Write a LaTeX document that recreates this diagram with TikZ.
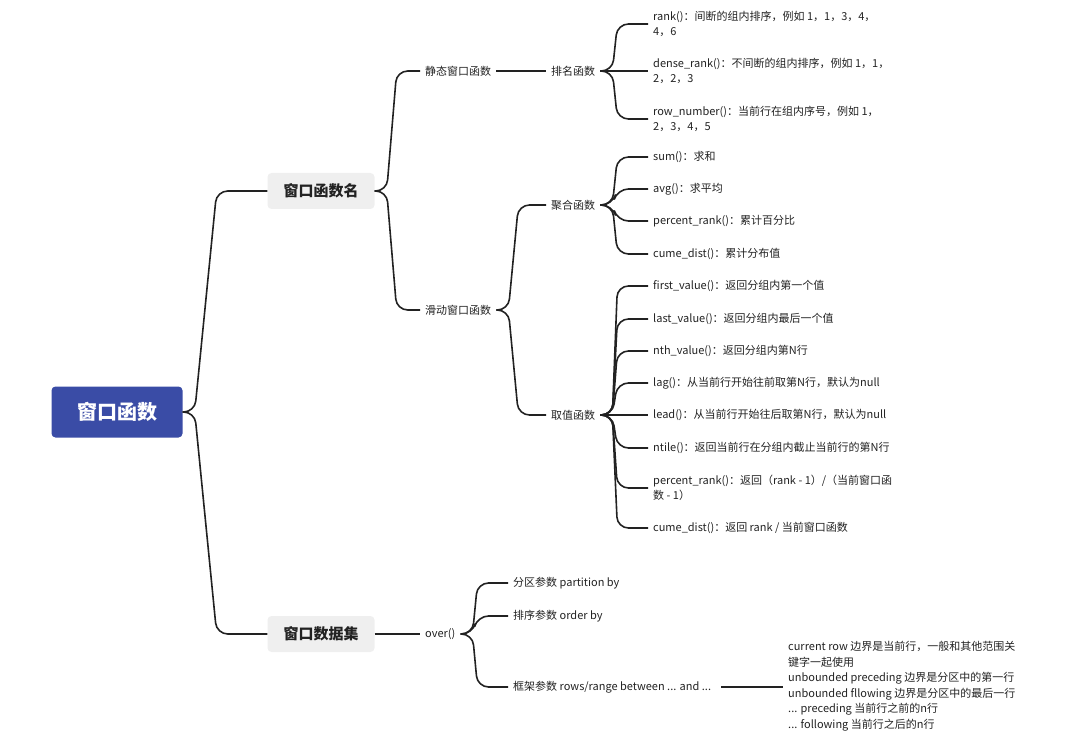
\documentclass[tikz,border=0pt]{standalone}
\usepackage{fontspec}
\setmainfont{Noto Sans CJK SC}
\usetikzlibrary{calc}
\definecolor{rootc}{HTML}{3A4CA6}
\definecolor{grayc}{HTML}{EFEFEF}
\definecolor{linec}{HTML}{222222}
\begin{document}
\begin{tikzpicture}[x=1pt,y=-1pt,
  ln/.style={draw=linec,line width=1.6pt,rounded corners=11pt},
  lf/.style={anchor=west,inner xsep=5pt,inner ysep=0pt,align=left,font=\fontsize{11}{15.5}\selectfont,text=linec},
  mid/.style={inner xsep=5pt,inner ysep=0pt,font=\fontsize{11}{14}\selectfont,text=linec},
  main/.style={fill=grayc,rounded corners=4pt,minimum width=107pt,minimum height=36pt,font=\fontsize{15}{18}\selectfont\bfseries,text=linec}]
\useasboundingbox (0,0) rectangle (1080,741);
\newcommand\br[3]{\draw[ln] let \p1=(#1.east),\p2=(#2.west) in (\p1) -- ($(\p1)+(12pt,0)$) -- (\x1+12pt+#3pt,\y2) -- (\p2);}
\node[fill=rootc,rounded corners=4pt,minimum width=131pt,minimum height=51pt,font=\fontsize{20}{22}\selectfont\bfseries,text=white] (root) at (117,412) {窗口函数};
\node[main] (fn) at (321,191) {窗口函数名};
\node[main] (ds) at (321,634) {窗口数据集};
\node[mid,anchor=west] (st) at (420,71) {静态窗口函数};
\node[mid,anchor=west] (sl) at (420,310) {滑动窗口函数};
\node[mid,anchor=west] (pm) at (546,71) {排名函数};
\node[mid,anchor=west] (jh) at (546,205) {聚合函数};
\node[mid,anchor=west] (qz) at (546,415) {取值函数};
\node[lf] (r1) at (648,24) {rank()：间断的组内排序，例如 1，1，3，4，\\4，6};
\node[lf] (r2) at (648,71) {dense\_rank()：不间断的组内排序，例如 1，1，\\2，2，3};
\node[lf] (r3) at (648,119) {row\_number()：当前行在组内序号，例如 1，\\2，3，4，5};
\node[lf] (a1) at (648,157) {sum()：求和};
\node[lf] (a2) at (648,189) {avg()：求平均};
\node[lf] (a3) at (648,221) {percent\_rank()：累计百分比};
\node[lf] (a4) at (648,254) {cume\_dist()：累计分布值};
\node[lf] (v1) at (648,286) {first\_value()：返回分组内第一个值};
\node[lf] (v2) at (648,319) {last\_value()：返回分组内最后一个值};
\node[lf] (v3) at (648,351) {nth\_value()：返回分组内第N行};
\node[lf] (v4) at (648,383) {lag()：从当前行开始往前取第N行，默认为null};
\node[lf] (v5) at (648,415) {lead()：从当前行开始往后取第N行，默认为null};
\node[lf] (v6) at (648,448) {ntile()：返回当前行在分组内截止当前行的第N行};
\node[lf] (v7) at (648,488) {percent\_rank()：返回（rank - 1）/（当前窗口函\\数 - 1）};
\node[lf] (v8) at (648,528) {cume\_dist()：返回 rank / 当前窗口函数};
\node[mid,anchor=west] (ov) at (420,634) {over()};
\node[lf] (o1) at (508,583) {分区参数 partition by};
\node[lf] (o2) at (508,616) {排序参数 order by};
\node[lf] (o3) at (508,687) {框架参数 rows/range between ... and ...};
\node[lf] (fr) at (783,686) {current row 边界是当前行，一般和其他范围关\\键字一起使用\\unbounded preceding 边界是分区中的第一行\\unbounded fllowing 边界是分区中的最后一行\\... preceding 当前行之前的n行\\... following 当前行之后的n行};
\br{root}{fn}{22}\br{root}{ds}{22}
\br{fn}{st}{10}\br{fn}{sl}{10}
\draw[ln] (st.east) -- (pm.west);
\br{sl}{jh}{10}\br{sl}{qz}{10}
\foreach \c in {r1,r2,r3}{\br{pm}{\c}{5}}
\foreach \c in {a1,a2,a3,a4}{\br{jh}{\c}{5}}
\foreach \c in {v1,v2,v3,v4,v5,v6,v7,v8}{\br{qz}{\c}{5}}
\draw[ln] (ds.east) -- (ov.west);
\foreach \c in {o1,o2,o3}{\br{ov}{\c}{5}}
\draw[ln] ($(o3.east)+(5pt,0)$) -- (fr.west|-o3.east);
\end{tikzpicture}
\end{document}
